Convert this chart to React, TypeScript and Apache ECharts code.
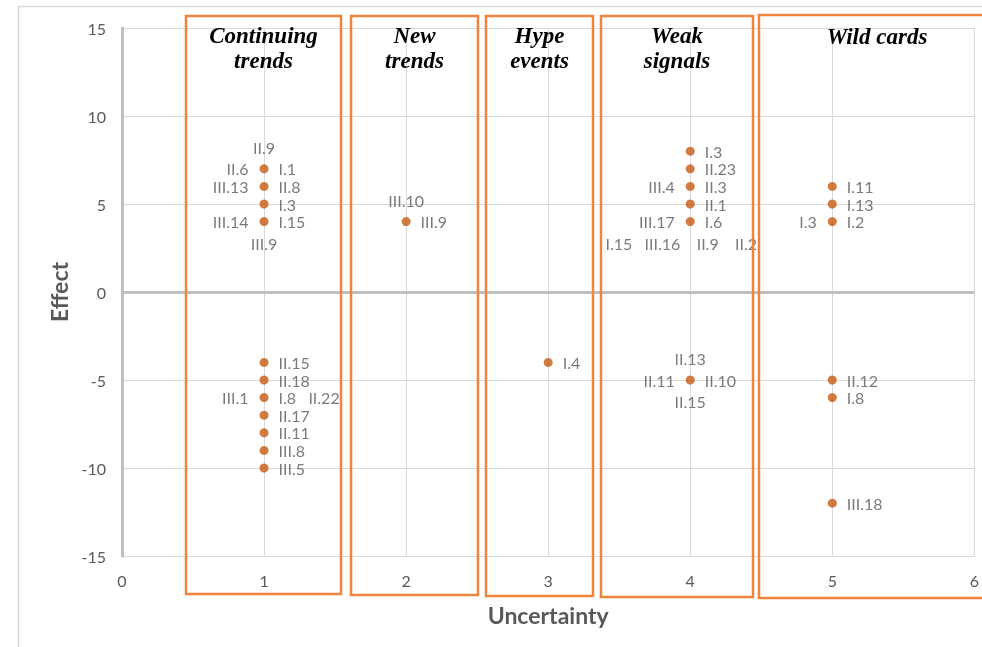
import React, { useEffect, useRef } from 'react';
import * as echarts from 'echarts';

// Data
const pointX = [1, 1, 1, 1, 1, 1, 1, 1, 1, 1, 1, 2, 3, 4, 4, 4, 4, 4, 4, 5, 5, 5, 5, 5, 5];
const pointY = [7, 6, 5, 4, -4, -5, -6, -7, -8, -9, -10, 4, -4, 8, 7, 6, 5, 4, -5, 6, 5, 4, -5, -6, -12];
const rightLabels = ['I.1', 'II.8', 'I.3', 'I.15', 'II.15', 'II.18', 'I.8   II.22', 'II.17', 'II.11', 'III.8', 'III.5', 'III.9', 'I.4', 'I.3', 'II.23', 'II.3', 'II.1', 'I.6', 'II.10', 'I.11', 'I.13', 'I.2', 'II.12', 'I.8', 'III.18'];
const leftLabels = ['II.6', 'III.13', '', 'III.14', '', '', 'III.1', '', '', '', '', '', '', '', '', 'III.4', '', 'III.17', 'II.11', '', '', 'I.3', '', '', ''];
const topLabels = ['II.9', '', '', '', '', '', '', '', '', '', '', 'III.10', '', '', '', '', '', '', 'II.13', '', '', '', '', '', ''];
const bottomLabels = ['', '', '', 'III.9', '', '', '', '', '', '', '', '', '', '', '', '', '', 'I.15   III.16    II.9    II.2', 'II.15', '', '', '', '', '', ''];
const zoneTitles = ['Continuing\ntrends', 'New\ntrends', 'Hype\nevents', 'Weak\nsignals', 'Wild cards'];
const yTicks = [-15, -10, -5, 0, 5, 10, 15];
const xTicks = [0, 1, 2, 3, 4, 5, 6];

const zoneBoxes = [
  { x: 186, y: 16, w: 155, h: 578 },
  { x: 351, y: 16, w: 127, h: 579 },
  { x: 486, y: 16, w: 107, h: 580 },
  { x: 601, y: 16, w: 152, h: 581 },
  { x: 759, y: 15, w: 240, h: 583 },
];

const LABEL_FONT = 'Lato, "Noto Sans", sans-serif';
const LABEL_COLOR = '#595959';

export default function App() {
  const ref = useRef<HTMLDivElement>(null);
  useEffect(() => {
    if (!ref.current) return;
    const chart = echarts.init(ref.current, undefined, { renderer: 'svg' });

    const labelSeries = (labels: string[], position: string, distance: number) => ({
      type: 'scatter',
      symbolSize: 9,
      itemStyle: { color: 'rgba(0,0,0,0)' },
      silent: true,
      z: 3,
      data: labels
        .map((t, i) => ({ t, i }))
        .filter((d) => d.t !== '')
        .map((d) => ({
          name: d.t,
          value: [pointX[d.i], pointY[d.i]],
          label: d.t.indexOf(' ') >= 0 && position === 'bottom' ? { offset: [-9, 0] } : undefined,
        })),
      label: {
        show: true,
        position,
        distance,
        formatter: '{b}',
        color: LABEL_COLOR,
        fontSize: 16,
        fontFamily: LABEL_FONT,
      },
    });

    const graphics: any[] = [
      {
        type: 'rect',
        silent: true,
        z: 0,
        shape: { x: 18.5, y: 6.5, width: 1000, height: 700 },
        style: { fill: 'none', stroke: '#d9d9d9', lineWidth: 1.5 },
      },
    ];
    zoneBoxes.forEach((b, i) => {
      graphics.push({
        type: 'rect',
        silent: true,
        z: 100,
        shape: { x: b.x, y: b.y, width: b.w, height: b.h },
        style: { fill: 'none', stroke: '#F0843C', lineWidth: 2.5 },
      });
      const twoLine = zoneTitles[i].indexOf('\n') >= 0;
      graphics.push({
        type: 'text',
        silent: true,
        z: 101,
        x: i === 4 ? 877 : b.x + b.w / 2,
        y: twoLine ? 48 : 36,
        style: {
          text: zoneTitles[i],
          fill: '#000',
          font: 'italic bold 23px "Liberation Serif", "DejaVu Serif", serif',
          lineHeight: 25,
          align: 'center',
          verticalAlign: 'middle',
        },
      });
    });

    chart.setOption({
      animation: false,
      grid: { left: 122, top: 28, right: 5, bottom: 91, containLabel: false },
      xAxis: {
        type: 'value',
        min: xTicks[0],
        max: xTicks[xTicks.length - 1],
        interval: 1,
        name: 'Uncertainty',
        nameLocation: 'middle',
        nameGap: 47,
        nameTextStyle: { color: LABEL_COLOR, fontSize: 23, fontWeight: 'bold', fontFamily: LABEL_FONT },
        axisLine: { show: false },
        axisTick: { show: false },
        axisLabel: { color: LABEL_COLOR, fontSize: 16, fontFamily: LABEL_FONT, margin: 16 },
        splitLine: { show: true, lineStyle: { color: '#d9d9d9', width: 1 } },
      },
      yAxis: {
        type: 'value',
        min: yTicks[0],
        max: yTicks[yTicks.length - 1],
        interval: 5,
        name: 'Effect',
        nameLocation: 'middle',
        nameGap: 50,
        nameTextStyle: { color: LABEL_COLOR, fontSize: 23, fontWeight: 'bold', fontFamily: LABEL_FONT },
        axisLine: { show: true, onZero: false, lineStyle: { color: '#bfbfbf', width: 3 } },
        axisTick: { show: false },
        axisLabel: { color: LABEL_COLOR, fontSize: 16, fontFamily: LABEL_FONT, margin: 16 },
        splitLine: { show: true, lineStyle: { color: '#d9d9d9', width: 1 } },
      },
      graphic: graphics,
      series: [
        {
          type: 'scatter',
          symbol: 'circle',
          symbolSize: 9,
          z: 5,
          itemStyle: { color: '#C55A11' },
          data: pointX.map((x, i) => [x, pointY[i]]),
          markLine: {
            silent: true,
            symbol: 'none',
            label: { show: false },
            lineStyle: { color: '#bfbfbf', width: 3, type: 'solid' },
            data: [{ yAxis: 0 }],
          },
        },
        labelSeries(rightLabels, 'right', 10),
        labelSeries(leftLabels, 'left', 11),
        labelSeries(topLabels, 'top', 9),
        labelSeries(bottomLabels, 'bottom', 9),
      ],
    });
    return () => chart.dispose();
  }, []);
  return <div ref={ref} style={{ position: 'fixed', left: 0, top: 0, width: 982, height: 647 }} />;
}
